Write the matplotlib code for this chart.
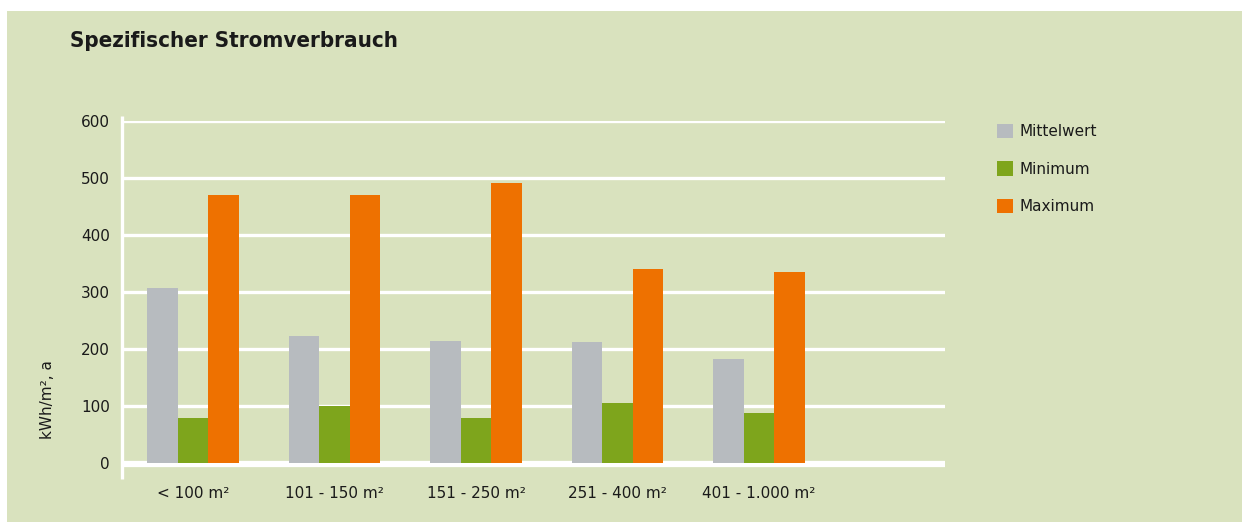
import matplotlib
matplotlib.use('Agg')
import matplotlib.pyplot as plt
import matplotlib.patches as mpatches
import numpy as np

# data
categories = ['< 100 m²', '101 - 150 m²', '151 - 250 m²', '251 - 400 m²', '401 - 1.000 m²']
mittelwert = [306, 222, 213, 212, 182]
minimum = [78, 100, 78, 105, 88]
maximum = [470, 470, 490, 340, 335]
series_names = ['Mittelwert', 'Minimum', 'Maximum']
yticks = [0, 100, 200, 300, 400, 500, 600]

bg = '#d9e2be'
colors = ['#b7bbbf', '#7ea51c', '#ee7100']
txt = '#1a1a1a'

W, H = 1242, 522
plt.rcParams['font.family'] = ['DejaVu Sans']

fig = plt.figure(figsize=(W / 100, H / 100), dpi=100)
fig.patch.set_facecolor('white')
# green panel (white strip at top and left)
panel = mpatches.Rectangle((7 / W, 0), 1, 1 - 11 / H, transform=fig.transFigure,
                           facecolor=bg, edgecolor='none', zorder=-10)
fig.add_artist(panel)

left, right, top, bottom = 122.4, 945, 120.7, 462.7
ax = fig.add_axes([left / W, 1 - bottom / H, (right - left) / W, (bottom - top) / H])
ax.set_facecolor('none')

x = np.arange(len(categories))
w = 0.216
for i, (vals, c) in enumerate(zip([mittelwert, minimum, maximum], colors)):
    ax.bar(x + (i - 1) * w, vals, width=w, color=c, zorder=3, label=series_names[i])

ax.set_ylim(0, 600)
ax.set_xlim(-0.5, 5.316)
ax.set_yticks(yticks)
ax.set_xticks(x)
ax.set_xticklabels(categories)
for s in ax.spines.values():
    s.set_visible(False)
ax.tick_params(axis='both', length=0, labelsize=11, colors=txt)
ax.tick_params(axis='x', pad=17)
ax.tick_params(axis='y', pad=9)

# white grid lines
for yv in yticks[1:]:
    ax.axhline(yv, color='white', lw=2.4, zorder=1, solid_capstyle='butt')
ax.axhline(-2.5, color='white', lw=4.5, zorder=1, clip_on=False, solid_capstyle='butt')
ax.plot([-0.5, -0.5], [-29, 609], color='white', lw=2.4, zorder=2, clip_on=False,
        solid_capstyle='butt')

fig.text(47 / W, 1 - 400 / H, 'kWh/m², a', rotation=90, ha='center', va='center',
         fontsize=11, color=txt)

fig.text(70 / W, 1 - 47 / H, 'Spezifischer Stromverbrauch', ha='left', va='baseline',
         fontsize=16, fontweight='bold', fontstretch='condensed', color=txt,
         family=['DejaVu Sans'])

leg = ax.legend(loc='upper left', bbox_to_anchor=(997 / W, 1 - 124 / H),
                bbox_transform=fig.transFigure, frameon=False, fontsize=11,
                handlelength=1.05, handleheight=1.05, handletextpad=0.4,
                labelspacing=1.45, borderpad=0, borderaxespad=0)
for t in leg.get_texts():
    t.set_color(txt)

fig.savefig('out.png', dpi=100, facecolor=fig.get_facecolor())
